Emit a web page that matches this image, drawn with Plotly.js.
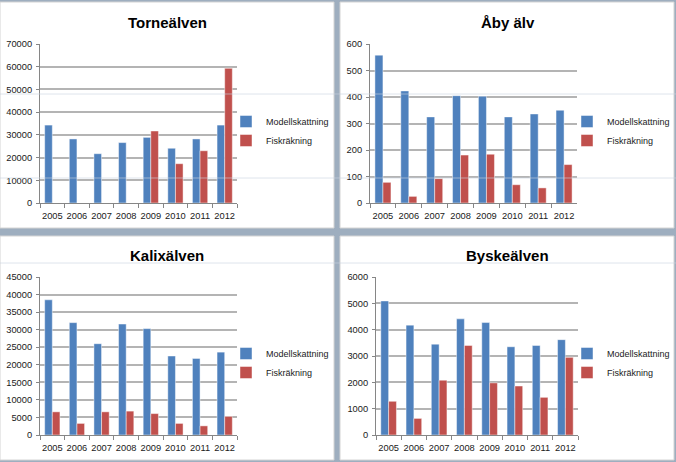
<!DOCTYPE html>
<html>
<head>
<meta charset="utf-8">
<script src="https://cdn.plot.ly/plotly-3.0.1.min.js"></script>
<style>html,body{margin:0;padding:0;background:#9eaebf;}#chart{width:676px;height:462px;}</style>
</head>
<body>
<div id="chart"></div>
<script>
// ---- Data ----
const years = ['2005','2006','2007','2008','2009','2010','2011','2012'];
const seriesNames = ['Modellskattning','Fiskräkning'];
const panelTitles = ['Torneälven','Åby älv','Kalixälven','Byskeälven'];

const torneModell = [34300, 28200, 21700, 26600, 28900, 24100, 28200, 34300];
const torneFisk   = [null, null, null, null, 31700, 17300, 23000, 59300];

const abyModell = [558, 423, 325, 405, 403, 325, 336, 350];
const abyFisk   = [78, 25, 92, 181, 184, 69, 57, 145];

const kalixModell = [38500, 32000, 26000, 31600, 30300, 22500, 21800, 23600];
const kalixFisk   = [6600, 3300, 6600, 6800, 6100, 3300, 2600, 5300];

const byskeModell = [5090, 4170, 3450, 4410, 4270, 3350, 3400, 3620];
const byskeFisk   = [1280, 630, 2080, 3400, 1980, 1860, 1430, 2950];

const yRanges = [[0,70000],[0,600],[0,45000],[0,6000]];
const yDticks = [10000, 100, 5000, 1000];

// ---- Layout helpers ----
const W = 676, H = 462;
const px = v => v / W;
const py = v => 1 - v / H;

const blue = '#4f81bd', red = '#c0504d';
const fontFam = '"Liberation Sans", Arial, sans-serif';

const panels = [
  {m: torneModell, f: torneFisk, xd: [40,237], yd: [44,203], title: [167,22], leg: [226,107]},
  {m: abyModell,   f: abyFisk,   xd: [370,577], yd: [44,203], title: [508,22], leg: [567,107]},
  {m: kalixModell, f: kalixFisk, xd: [40,237], yd: [277,435], title: [167,255], leg: [226,339]},
  {m: byskeModell, f: byskeFisk, xd: [376,578], yd: [277,435], title: [508,255], leg: [567,339]}
];

const data = [];
const layout = {
  width: W, height: H,
  margin: {l:0, r:0, t:0, b:0},
  paper_bgcolor: '#9eaebf',
  plot_bgcolor: '#ffffff',
  barmode: 'group',
  bargap: 0.38,
  bargroupgap: 0,
  font: {family: fontFam, size: 9, color: '#1a1a1a'},
  shapes: [],
  annotations: []
};

// panel backgrounds
const panelRects = [[0,2,334,228],[340,2,674,228],[0,236,334,460],[340,236,674,460]];
panelRects.forEach(r => {
  layout.shapes.push({type:'rect', xref:'paper', yref:'paper', layer:'below',
    x0: px(r[0]), x1: px(r[2]), y0: py(r[3]), y1: py(r[1]),
    fillcolor:'#ffffff', line:{color:'#d4d4d4', width:1}});
});

panels.forEach((p, i) => {
  const n = i + 1;
  const xa = n === 1 ? 'x' : 'x' + n;
  const ya = n === 1 ? 'y' : 'y' + n;
  const lg = n === 1 ? 'legend' : 'legend' + n;
  data.push({type:'bar', x: years, y: p.m, name: seriesNames[0], xaxis: xa, yaxis: ya, legend: lg,
    marker:{color: blue, line:{color:'rgba(255,255,255,0.45)', width:1}}});
  data.push({type:'bar', x: years, y: p.f, name: seriesNames[1], xaxis: xa, yaxis: ya, legend: lg,
    marker:{color: red, line:{color:'rgba(255,255,255,0.45)', width:1}}});

  layout['xaxis' + (n === 1 ? '' : n)] = {
    domain: [px(p.xd[0]), px(p.xd[1])], anchor: ya, type:'category',
    showgrid: false, showline: true, linecolor:'#868686', linewidth:1,
    ticks:'outside', tickson:'boundaries', ticklen:4, tickcolor:'#868686',
    ticklabelstandoff: 4,
    tickangle: 0, tickfont:{size:9.3, color:'#1a1a1a'}, fixedrange:true
  };
  layout['yaxis' + (n === 1 ? '' : n)] = {
    domain: [py(p.yd[1]), py(p.yd[0])], anchor: xa,
    range: yRanges[i], dtick: yDticks[i], tick0: 0, tickformat:'d',
    showgrid: true, gridcolor:'#b4b4b4', gridwidth:2, zeroline:false,
    showline: true, linecolor:'#868686', linewidth:1,
    ticks:'outside', ticklen:3, tickcolor:'#868686',
    ticklabelstandoff: 2,
    tickfont:{size:9.3, color:'#1a1a1a'}, fixedrange:true
  };
  layout[lg] = {
    x: px(p.leg[0]), y: py(p.leg[1]), xanchor:'left', yanchor:'top',
    bgcolor:'rgba(0,0,0,0)', font:{size:9, color:'#1a1a1a', family: fontFam},
    traceorder:'normal'
  };
  layout.annotations.push({
    xref:'paper', yref:'paper', x: px(p.title[0]), y: py(p.title[1]),
    xanchor:'center', yanchor:'middle', showarrow:false,
    text: '<b>' + panelTitles[i] + '</b>',
    font:{size:15, color:'#000000', family: fontFam}
  });
});

// faint screen lines crossing the picture
[94, 178, 263].forEach(y => {
  layout.shapes.push({type:'line', xref:'paper', yref:'paper', layer:'above',
    x0: 0, x1: 1, y0: py(y), y1: py(y), line:{color:'rgba(200,212,224,0.6)', width:1}});
});

Plotly.newPlot('chart', data, layout, {displayModeBar:false, staticPlot:true});
</script>
</body>
</html>
